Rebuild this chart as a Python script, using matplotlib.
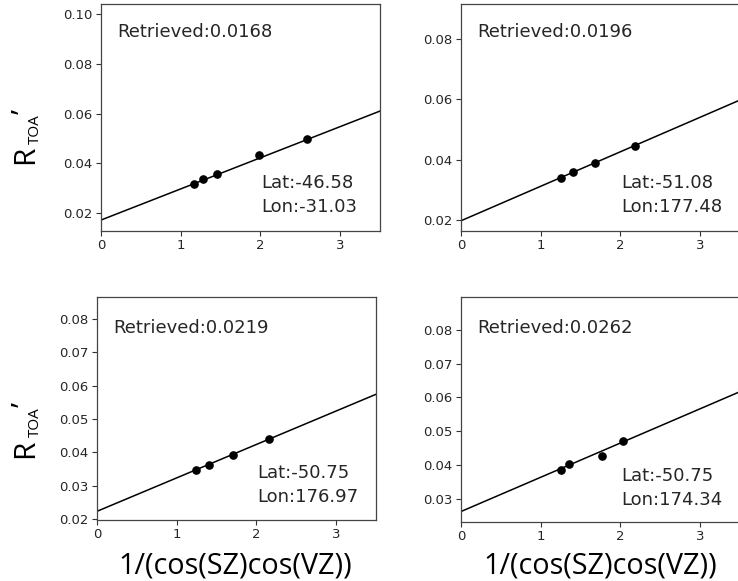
import matplotlib
matplotlib.use("Agg")
import matplotlib.pyplot as plt
import numpy as np

# ---- data ----
retrieved = [0.0168, 0.0196, 0.0219, 0.0262]
lats = [-46.58, -51.08, -50.75, -50.75]
lons = [-31.03, 177.48, 176.97, 174.34]

x1 = [1.17, 1.285, 1.45, 1.98, 2.59]
y1 = [0.0315, 0.0335, 0.0355, 0.0433, 0.0499]
x2 = [1.255, 1.41, 1.68, 2.18]
y2 = [0.0338, 0.0358, 0.0388, 0.0446]
x3 = [1.24, 1.40, 1.70, 2.16]
y3 = [0.0347, 0.0362, 0.0392, 0.0441]
x4 = [1.255, 1.36, 1.77, 2.03]
y4 = [0.0386, 0.0405, 0.0428, 0.0472]

line_intercepts = [0.0172, 0.0197, 0.0224, 0.0264]
line_slopes = [0.01251, 0.01146, 0.0100, 0.01009]

ylims = [(0.0128, 0.104), (0.0163, 0.0917), (0.0198, 0.0865), (0.0234, 0.0896)]
yticks = [[0.02, 0.04, 0.06, 0.08, 0.10],
          [0.02, 0.04, 0.06, 0.08],
          [0.02, 0.03, 0.04, 0.05, 0.06, 0.07, 0.08],
          [0.03, 0.04, 0.05, 0.06, 0.07, 0.08]]
xticks = [0, 1, 2, 3]
xlabel = "1/(cos(SZ)cos(VZ))"

xs = [x1, x2, x3, x4]
ys = [y1, y2, y3, y4]

W, H = 738, 581
fig = plt.figure(figsize=(W / 100, H / 100), dpi=100)

# axes pixel boxes: left, top, right, bottom
boxes = [(101, 4, 380, 231), (461, 4, 740, 231), (97, 297, 376, 520), (461, 297, 740, 521.7)]
text_y_ret = [0.877, 0.877, 0.86, 0.86]
text_y_ll = [0.16, 0.16, 0.157, 0.151]

tc = '#262626'
for i in range(4):
    l, t, r, b = boxes[i]
    ax = fig.add_axes([l / W, 1 - b / H, (r - l) / W, (b - t) / H])
    xl = np.array([0.0, 3.5])
    ax.plot(xl, line_intercepts[i] + line_slopes[i] * xl, color='black', lw=1.1)
    ax.plot(xs[i], ys[i], 'o', color='black', ms=5.2)
    ax.set_xlim(0, 3.5)
    ax.set_ylim(*ylims[i])
    ax.set_xticks(xticks)
    ax.set_yticks(yticks[i])
    ax.set_yticklabels([f"{v:.2f}" for v in yticks[i]])
    ax.tick_params(labelsize=9.5, colors='#333333', labelcolor=tc, length=3.5, pad=2.5)
    for s in ax.spines.values():
        s.set_color('#444444')
        s.set_linewidth(0.9)
    ax.text(0.057, text_y_ret[i], f"Retrieved:{retrieved[i]:.4f}", transform=ax.transAxes,
            fontsize=13, color=tc, ha='left', va='center')
    ax.text(0.576, text_y_ll[i], f"Lat:{lats[i]:.2f}\nLon:{lons[i]:.2f}", transform=ax.transAxes,
            fontsize=13, color=tc, ha='left', va='center', linespacing=1.42)


def px(x, y):
    return x / W, 1 - y / H


# y labels built from pieces (rotated, anchored at baseline-left)
for dy in [0, 293]:
    kw = dict(rotation=90, rotation_mode='anchor', ha='left', va='baseline',
              family='Open Sans', color='black')
    fig.text(*px(33, 164.5 + dy), "R", fontsize=21.5, **kw)
    fig.text(*px(38.5, 144 + dy), "TOA", fontsize=11, **kw)
    fig.text(*px(33, 114 + dy), "\u2019", fontsize=21.5, **kw)

# x labels
for xc in [235.5, 600.5]:
    fig.text(*px(xc, 573.5), xlabel, ha='center', va='baseline',
             fontsize=20.7, family='Open Sans', color='black')

fig.savefig('out.png', dpi=100)
